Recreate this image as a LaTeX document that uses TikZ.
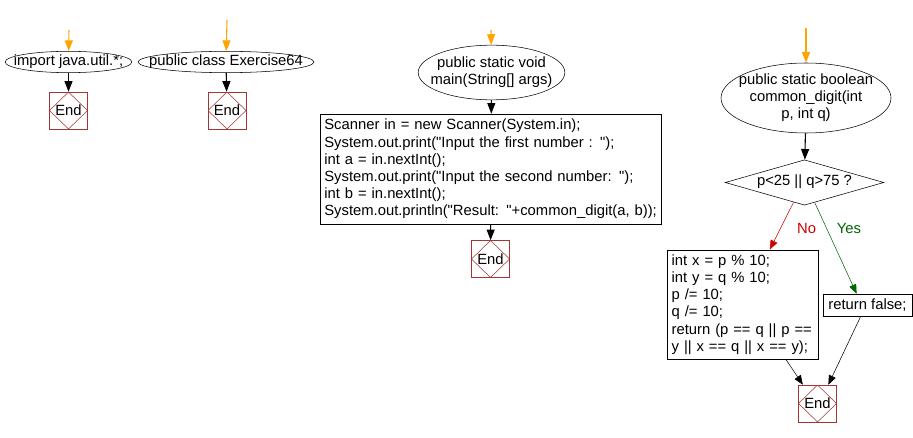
\documentclass[tikz,border=0pt]{standalone}
\usepackage{fontspec}
\setmainfont{Liberation Sans}
\usetikzlibrary{shapes.geometric,arrows.meta}
\definecolor{endred}{HTML}{A33535}
\definecolor{nored}{HTML}{CC0000}
\definecolor{yesgreen}{HTML}{006600}
\definecolor{startorange}{HTML}{FFA500}
% text that takes no room, so that the shape keeps its minimum size
\newcommand{\jvlines}[1]{\makebox[0pt]{\smash{\raisebox{-0.25em}{\begin{tabular}[c]{@{}c@{}}#1\end{tabular}}}}}
\begin{document}
\begin{tikzpicture}[x=0.75pt, y=-0.75pt]
        \tikzset{
        jv text/.style={font=\fontsize{11.1}{12.9}\selectfont},
        jv func/.style={jv text,ellipse,draw,inner sep=0},
        jv box/.style={jv text,rectangle,draw,inner sep=3pt,align=left},
        jv cond/.style={jv text,diamond,draw,inner sep=0,minimum width=119pt,minimum height=34pt},
        jv end/.style={jv text,rectangle,draw=endred,minimum width=28.5pt,minimum height=27.75pt,inner sep=0,
            path picture={\draw[endred] (path picture bounding box.north) -- (path picture bounding box.east)
            -- (path picture bounding box.south) -- (path picture bounding box.west) -- cycle;}},
        jv start/.style={draw=startorange,-{Triangle[length=8pt,width=6pt]},line width=0.8pt},
        jv flow/.style={draw=black,-{Triangle[length=8pt,width=6pt]},line width=0.8pt},
        jv branch/.style={-{Triangle[length=7pt,width=5.5pt]},thin}
        }
        \useasboundingbox (0,0) rectangle (913,438);

        % first column
        \node[jv func, minimum width=95pt, minimum height=16pt] (imp) at (68.5, 62) {\jvlines{import java.util.*;}};
        \node[jv end] (end1) at (68.5, 110.5) {End};
        \coordinate (s1) at (69, 30);

        % second column
        \node[jv func, minimum width=132pt, minimum height=16pt] (cls) at (226, 62) {\jvlines{public class Exercise64}};
        \node[jv end] (end2) at (227, 110.5) {End};
        \coordinate (s2) at (227, 20);

        % main
        \node[jv func, minimum width=110pt, minimum height=41pt] (mainf) at (491.5, 72.5) {\jvlines{public static void\\main(String[] args)}};
        \node[jv box, text width=250pt, minimum height=82.5pt] (scan) at (491, 169)
            {Scanner in = new Scanner(System.in);\\
             System.out.print(\textquotedbl Input the first number : \textquotedbl);\\
             int a = in.nextInt();\\
             System.out.print(\textquotedbl Input the second number: \textquotedbl);\\
             int b = in.nextInt();\\
             System.out.println(\textquotedbl Result: \textquotedbl+common\_digit(a, b));};
        \node[jv end] (end3) at (490.5, 259) {End};
        \coordinate (s3) at (491, 30);

        % common_digit
        \node[jv func, minimum width=127.5pt, minimum height=52.5pt] (cdig) at (806, 98) {\jvlines{public static boolean\\common\_digit(int\\p, int q)}};
        \node[jv cond] (cond) at (804.5, 182.5) {\jvlines{p<25 || q>75 ?}};
        \node[jv box, text width=107pt, minimum height=82pt] (calc) at (743, 304.5)
            {int x = p \% 10;\\
             int y = q \% 10;\\
             p /= 10;\\
             q /= 10;\\
             return (p == q || p ==\\
             y || x == q || x == y);};
        \node[jv box, minimum width=66.75pt, minimum height=16.5pt, inner sep=1pt] (rf) at (867.5, 305) {return false;};
        \node[jv end] (end4) at (817.5, 403.5) {End};
        \coordinate (s4) at (806, 28);

        \path[-]
        (s1) edge[jv start] (imp)
        (s2) edge[jv start] (cls)
        (s3) edge[jv start] (mainf)
        (s4) edge[jv start] (cdig)
        (imp) edge[jv flow] (end1)
        (cls) edge[jv flow] (end2)
        (mainf) edge[jv flow] (scan)
        (scan) edge[jv flow] (end3)
        (cdig) edge[jv flow] (cond)
        (cond.-119) edge[jv branch, draw=nored] node[jv text, text=nored, pos=0.55, right=9pt] {No} (calc.64)
        (cond.-63) edge[jv branch, draw=yesgreen] node[jv text, text=yesgreen, pos=0.29, right=4pt] {Yes} (rf.134)
        (calc.-52) edge[jv branch, draw=black] (end4.128)
        (rf.-121) edge[jv branch, draw=black] (end4.60)
        ;
    \end{tikzpicture}
\end{document}
